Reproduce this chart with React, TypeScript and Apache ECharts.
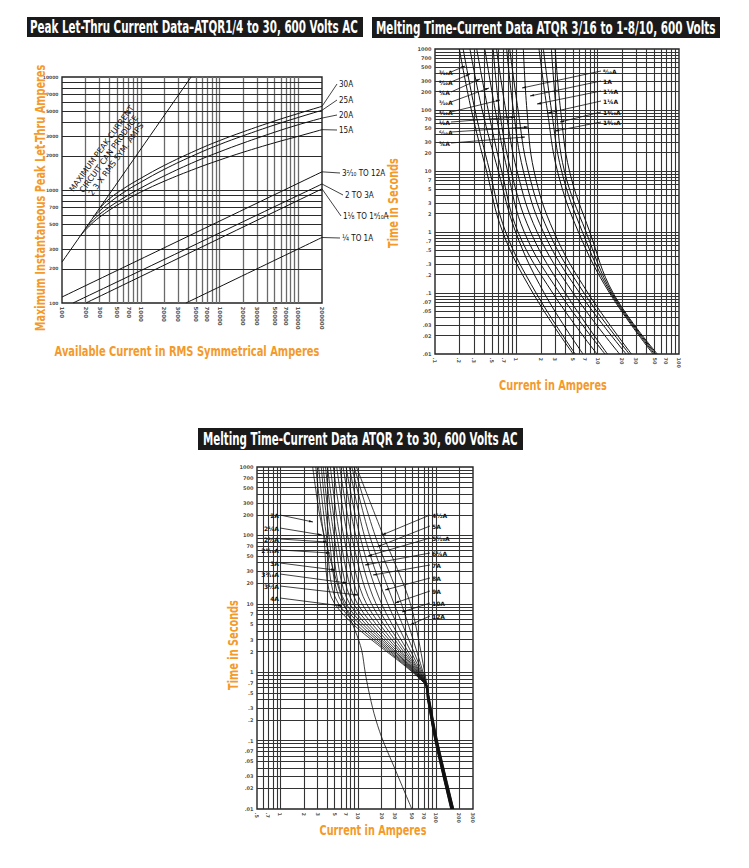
import React, { useEffect, useRef } from "react";
import * as echarts from "echarts";

const ORANGE = "#F39A2B";
const COND = "'Liberation Sans Narrow','DejaVu Sans Condensed','Roboto','Liberation Sans',sans-serif";
const SANS = "'DejaVu Sans','Liberation Sans',sans-serif";

// ---------- Chart 1: Peak let-thru ----------
const peakXTicks = [100, 200, 300, 500, 700, 1000, 2000, 3000, 5000, 7000, 10000, 20000, 30000, 50000, 70000, 100000, 200000];
const peakXLabels = ["100", "200", "300", "500", "700", "1000", "2000", "3000", "5000", "7000", "10000", "20000", "30000", "50000", "70000", "100000", "200000"];
const peakYTicks = [100, 200, 300, 500, 700, 1000, 2000, 3000, 5000, 7000, 10000];
const peakYLabels = ["100", "200", "300", "500", "700", "1000", "2000", "3000", "5000", "7000", "10000"];
const peakMaxAvailable = [[100, 230], [4350, 10000]];
const peak30A = [[300, 690], [400, 837], [600, 1025], [1000, 1270], [2000, 1653], [5000, 2236], [10000, 2735], [20000, 3274], [50000, 4080], [100000, 4753], [200000, 5500]];
const peak25A = [[250, 575], [300, 651], [400, 773], [600, 947], [1000, 1173], [2000, 1526], [5000, 2064], [10000, 2525], [20000, 3022], [50000, 3765], [100000, 4386], [200000, 5075]];
const peak20A = [[200, 460], [250, 544], [300, 609], [400, 707], [600, 848], [1000, 1041], [2000, 1337], [5000, 1792], [10000, 2175], [20000, 2604], [50000, 3245], [100000, 3781], [200000, 4330]];
const peak15A = [[170, 391], [200, 445], [250, 518], [300, 575], [400, 664], [600, 790], [1000, 959], [2000, 1198], [5000, 1548], [10000, 1841], [20000, 2160], [50000, 2618], [100000, 2988], [200000, 3420]];
const peak3to12A = [[100, 113], [200000, 1448]];
const peak2to3A = [[138, 100], [200000, 1130]];
const peak1to18A = [[201, 100], [200000, 1023]];
const peakQto1A = [[3750, 100], [200000, 380]];
const peakNames = ["30A", "25A", "20A", "15A", "3²⁄₁₀ TO 12A", "2 TO 3A", "1⅛ TO 1⁸⁄₁₀A", "¼ TO 1A"];

// ---------- Chart 2: melting time 3/16 to 1-8/10 ----------
const smallXTicks = [0.1, 0.2, 0.3, 0.5, 0.7, 1, 2, 3, 5, 7, 10, 20, 30, 50, 70, 100];
const smallXLabels = [".1", ".2", ".3", ".5", ".7", "1", "2", "3", "5", "7", "10", "20", "30", "50", "70", "100"];
const timeTicks = [1000, 700, 500, 300, 200, 100, 70, 50, 30, 20, 10, 7, 5, 3, 2, 1, 0.7, 0.5, 0.3, 0.2, 0.1, 0.07, 0.05, 0.03, 0.02, 0.01];
const timeLabels = ["1000", "700", "500", "300", "200", "100", "70", "50", "30", "20", "10", "7", "5", "3", "2", "1", ".7", ".5", ".3", ".2", ".1", ".07", ".05", ".03", ".02", ".01"];
// each curve: [current A, time s] at 1000, 100, 10, 1, 0.1, 0.01 s
const smallCurves = [
  [[0.199, 1000], [0.28, 100], [0.43, 10], [0.68, 1], [1.6, 0.1], [5.0, 0.01]],
  [[0.222, 1000], [0.31, 100], [0.47, 10], [0.74, 1], [1.75, 0.1], [5.3, 0.01]],
  [[0.269, 1000], [0.38, 100], [0.6, 10], [0.98, 1], [2.2, 0.1], [6.6, 0.01]],
  [[0.326, 1000], [0.45, 100], [0.66, 10], [1.05, 1], [2.8, 0.1], [9.8, 0.01]],
  [[0.41, 1000], [0.55, 100], [0.78, 10], [1.25, 1], [3.4, 0.1], [12.3, 0.01]],
  [[0.52, 1000], [0.62, 100], [0.86, 10], [1.5, 1], [4.0, 0.1], [13.2, 0.01]],
  [[0.57, 1000], [0.74, 100], [1.02, 10], [1.8, 1], [5.0, 0.1], [18.6, 0.01]],
  [[0.76, 1000], [0.92, 100], [1.22, 10], [2.15, 1], [6.0, 0.1], [22.4, 0.01]],
  [[0.83, 1000], [1.05, 100], [1.4, 10], [2.5, 1], [6.8, 0.1], [24.5, 0.01]],
  [[1.22, 1000], [1.35, 100], [1.65, 10], [2.9, 1], [7.6, 0.1], [26, 0.01]],
  [[1.9, 1000], [2.4, 100], [3.2, 10], [5.8, 1], [14, 0.1], [48, 0.01]],
  [[2.15, 1000], [2.7, 100], [3.6, 10], [6.5, 1], [14.5, 0.1], [50, 0.01]],
  [[2.7, 1000], [3.1, 100], [3.9, 10], [7.2, 1], [15, 0.1], [52, 0.01]],
  [[3.0, 1000], [3.5, 100], [4.5, 10], [8.0, 1], [15.5, 0.1], [54, 0.01]],
];
const smallLeftNames = ["³⁄₁₆A", "²⁄₁₀A", "¼A", "³⁄₁₀A", "⁴⁄₁₀A", "½A", "⁶⁄₁₀A", "¾A"];
const smallRightNames = ["⁸⁄₁₀A", "1A", "1⅛A", "1¼A", "1⁴⁄₁₀A", "1⁸⁄₁₀A"];

// ---------- Chart 3: melting time 2 to 30 ----------
const largeXTicks = [0.5, 0.7, 1, 2, 3, 5, 7, 10, 20, 30, 50, 70, 100, 200, 300];
const largeXLabels = [".5", ".7", "1", "2", "3", "5", "7", "10", "20", "30", "50", "70", "100", "200", "300"];
const largeCurves = [
  [[2.6, 1000], [3.2, 200], [4.1, 60], [6.1, 12.7], [9.2, 4], [11.1, 2.1], [12.3, 1], [13.6, 0.55], [16, 0.25], [20, 0.113], [29.6, 0.039], [49, 0.01]],
  [[2.85, 1000], [3.6, 100], [5.0, 10], [70, 0.7], [78, 0.4], [97, 0.1], [155, 0.01]],
  [[3.1, 1000], [3.9, 100], [5.6, 10], [70.5, 0.7], [78, 0.4], [97.5, 0.1], [156, 0.01]],
  [[3.35, 1000], [4.2, 100], [6.3, 10], [71, 0.7], [78.5, 0.4], [98, 0.1], [157, 0.01]],
  [[3.55, 1000], [4.5, 100], [7.0, 10], [71.5, 0.7], [79, 0.4], [98.5, 0.1], [158, 0.01]],
  [[3.8, 1000], [4.9, 100], [7.8, 10], [72, 0.7], [79, 0.4], [99, 0.1], [159, 0.01]],
  [[4.05, 1000], [5.3, 100], [8.7, 10], [72, 0.7], [79.5, 0.4], [99.5, 0.1], [160, 0.01]],
  [[4.4, 1000], [5.8, 100], [9.8, 10], [72.5, 0.7], [80, 0.4], [100, 0.1], [161, 0.01]],
  [[4.8, 1000], [6.5, 100], [11.2, 10], [73, 0.7], [80, 0.4], [100.5, 0.1], [162, 0.01]],
  [[5.3, 1000], [7.3, 100], [12.8, 10], [73, 0.7], [80.5, 0.4], [101, 0.1], [163, 0.01]],
  [[5.8, 1000], [8.2, 100], [14.8, 10], [73.5, 0.7], [81, 0.4], [101.5, 0.1], [164, 0.01]],
  [[6.4, 1000], [9.3, 100], [17, 10], [74, 0.7], [81, 0.4], [102, 0.1], [165, 0.01]],
  [[7.0, 1000], [10.5, 100], [20, 10], [74, 0.7], [81.5, 0.4], [102.5, 0.1], [166, 0.01]],
  [[7.7, 1000], [12, 100], [24, 10], [74.5, 0.7], [82, 0.4], [103, 0.1], [167, 0.01]],
  [[8.3, 1000], [14, 100], [29, 10], [75, 0.7], [82, 0.4], [103.5, 0.1], [168, 0.01]],
  [[8.9, 1000], [16.5, 100], [36, 10], [75, 0.7], [82.5, 0.4], [104, 0.1], [169, 0.01]],
  [[9.5, 1000], [21, 100], [47, 10], [76, 0.7], [83, 0.4], [105, 0.1], [170, 0.01]],
];
const largeLeftNames = ["2A", "2¼A", "2½A", "2⁸⁄₁₀A", "3A", "3²⁄₁₀A", "3½A", "4A"];
const largeRightNames = ["4½A", "5A", "5⁶⁄₁₀A", "6¼A", "7A", "8A", "9A", "10A", "12A"];

// ---------- layout (pixels) ----------
const grids = [
  { left: 62, top: 77, width: 260, height: 226 },
  { left: 435, top: 49, width: 244, height: 305 },
  { left: 257, top: 467, width: 216, height: 342 },
];
const extents = [
  { x: [100, 200000], y: [100, 10000] },
  { x: [0.1, 100], y: [0.01, 1000] },
  { x: [0.5, 300], y: [0.01, 1000] },
];
const titleBars = [
  { text: "Peak Let-Thru Current Data–ATQR1/4 to 30, 600 Volts AC", x: 27, y: 17, w: 336, h: 20, tx: 30, tw: 328 },
  { text: "Melting Time-Current Data ATQR 3/16 to 1-8/10, 600 Volts", x: 372, y: 17, w: 348, h: 21, tx: 376, tw: 340 },
  { text: "Melting Time-Current Data ATQR 2 to 30, 600 Volts AC", x: 198, y: 428, w: 325, h: 22, tx: 203, tw: 315 },
];
const axisTitles = [
  { text: "Maximum Instantaneous Peak Let-Thru Amperes", cx: 40, cy: 198, len: 267, vertical: true },
  { text: "Available Current in RMS Symmetrical Amperes", cx: 187, cy: 351, len: 265, vertical: false },
  { text: "Time in Seconds", cx: 393, cy: 203, len: 90, vertical: true },
  { text: "Current in Amperes", cx: 553, cy: 385, len: 108, vertical: false },
  { text: "Time in Seconds", cx: 233, cy: 645, len: 90, vertical: true },
  { text: "Current in Amperes", cx: 373, cy: 830, len: 107, vertical: false },
];
const peakLabelPos = [[339, 84], [339, 100], [339, 115], [339, 130], [342, 173], [345, 195], [343, 216], [342, 238]];
const smallLeftLabelY = [72, 82, 92, 102, 112, 122, 132, 143];
const smallLeftTargets = [[465, 66], [470, 74], [480, 79], [489, 88], [500, 100], [515, 117], [528, 127], [525, 137]];
const smallRightLabelY = [71, 81, 91, 101, 112, 122];
const smallRightTargets = [[522, 88], [530, 96], [537, 104], [548, 113], [560, 122], [555, 131]];
const largeLeftLabelY = [515, 528, 539, 550, 563, 574, 586, 598];
const largeLeftTargets = [[313, 522], [322, 535], [327, 542], [330, 553], [335, 570], [347, 583], [358, 595], [342, 606]];
const largeRightLabelY = [515, 526, 538, 553, 565, 578, 591, 603, 616];
const largeRightTargets = [[382, 535], [377, 547], [368, 556], [365, 565], [373, 575], [385, 590], [395, 603], [402, 612], [410, 625]];
const whiteBoxes = [
  [436, 62, 22, 88],
  [598, 63, 22, 62],
  [258, 502, 22, 101],
  [425, 502, 35, 121],
];

function logGridValues(min: number, max: number) {
  const out: number[] = [];
  const d0 = Math.floor(Math.log10(min));
  const d1 = Math.ceil(Math.log10(max));
  for (let d = d0; d <= d1; d++) {
    for (let k = 1; k <= 9; k++) {
      const v = parseFloat((k * Math.pow(10, d)).toPrecision(6));
      if (v > min * 1.0001 && v < max * 0.9999) out.push(v);
    }
  }
  return out;
}

function tickSeries(gi: number, axis: "x" | "y", ticks: number[], labels: string[], lineColor: string, lineWidth: number, fontSize: number) {
  const isX = axis === "x";
  const ext = extents[gi];
  const other = isX ? ext.y[0] : ext.x[0];
  const gridVals = logGridValues(isX ? ext.x[0] : ext.y[0], isX ? ext.x[1] : ext.y[1]);
  return {
    type: "scatter",
    xAxisIndex: gi,
    yAxisIndex: gi,
    z: 1,
    silent: true,
    clip: false,
    symbolSize: 1,
    itemStyle: { color: "rgba(0,0,0,0)" },
    emphasis: { disabled: true },
    data: ticks.map((v, i) => ({ name: labels[i], value: isX ? [v, other] : [other, v] })),
    label: isX
      ? { show: true, position: "bottom", distance: 3, rotate: -90, align: "left", verticalAlign: "middle", formatter: "{b}", fontSize, color: "#222", fontFamily: SANS, fontWeight: "bold" }
      : { show: true, position: "left", distance: 3, formatter: "{b}", fontSize, color: "#222", fontFamily: SANS, fontWeight: "bold" },
    markLine: {
      silent: true,
      animation: false,
      symbol: ["none", "none"],
      label: { show: false },
      emphasis: { disabled: true },
      lineStyle: { color: lineColor, width: lineWidth, type: "solid" },
      data: gridVals.map((v) => (isX ? { xAxis: v } : { yAxis: v })),
    },
  };
}

function curveSeries(gi: number, pts: number[][], width = 1, smooth = 0.3) {
  return {
    type: "line",
    xAxisIndex: gi,
    yAxisIndex: gi,
    data: pts,
    showSymbol: false,
    symbol: "none",
    smooth,
    silent: true,
    z: 5,
    lineStyle: { color: "#111", width },
    emphasis: { disabled: true },
  };
}

function buildOption() {
  const series: any[] = [
    tickSeries(0, "x", peakXTicks, peakXLabels, "#6a6a6a", 1.3, 5.5),
    tickSeries(0, "y", peakYTicks, peakYLabels, "#2a2a2a", 1, 4.5),
    tickSeries(1, "x", smallXTicks, smallXLabels, "#333", 1.1, 5),
    tickSeries(1, "y", timeTicks, timeLabels, "#333", 1, 5),
    tickSeries(2, "x", largeXTicks, largeXLabels, "#333", 1.1, 5),
    tickSeries(2, "y", timeTicks, timeLabels, "#333", 1, 5),
  ];
  [peakMaxAvailable, peak30A, peak25A, peak20A, peak15A, peak3to12A, peak2to3A, peak1to18A, peakQto1A].forEach((c) => series.push(curveSeries(0, c, 1, 0.4)));
  smallCurves.forEach((c) => series.push(curveSeries(1, c, 1, 0.4)));
  largeCurves.forEach((c) => series.push(curveSeries(2, c, 0.8, 0.3)));

  return {
    animation: false,
    backgroundColor: "#fff",
    grid: grids.map((g) => ({ ...g, show: true, borderColor: "#222", borderWidth: 1.4, backgroundColor: "transparent" })),
    xAxis: extents.map((e, i) => ({ type: "log", logBase: 10, gridIndex: i, min: e.x[0], max: e.x[1], show: false })),
    yAxis: extents.map((e, i) => ({ type: "log", logBase: 10, gridIndex: i, min: e.y[0], max: e.y[1], show: false })),
    series,
  };
}

let measureCtx: CanvasRenderingContext2D | null = null;
function textWidth(text: string, font: string) {
  if (!measureCtx) measureCtx = document.createElement("canvas").getContext("2d");
  measureCtx!.font = font;
  return measureCtx!.measureText(text).width || 1;
}

function fittedText(text: string, x: number, y: number, width: number, size: number, family: string, fill: string, align: string, rotation = 0) {
  const font = `bold ${size}px ${family}`;
  const w = textWidth(text, font);
  return {
    type: "text",
    x,
    y,
    rotation,
    scaleX: width / w,
    z: 10,
    silent: true,
    style: { text, font, fill, align, verticalAlign: "middle", textAlign: align, textVerticalAlign: "middle" },
  };
}

function smallText(text: string, x: number, y: number, size: number, align: string, family = SANS, weight = "normal") {
  return {
    type: "text",
    x,
    y,
    z: 10,
    silent: true,
    style: { text, font: `${weight} ${size}px ${family}`, fill: "#111", align, verticalAlign: "middle", textAlign: align, textVerticalAlign: "middle" },
  };
}

function leader(x1: number, y1: number, x2: number, y2: number) {
  return { type: "line", z: 6, silent: true, shape: { x1, y1, x2, y2 }, style: { stroke: "#111", lineWidth: 0.8 } };
}

function arrowHead(x1: number, y1: number, x2: number, y2: number) {
  const dx = x2 - x1;
  const dy = y2 - y1;
  const len = Math.hypot(dx, dy) || 1;
  const ux = dx / len;
  const uy = dy / len;
  const bx = x2 - ux * 4;
  const by = y2 - uy * 4;
  return {
    type: "polygon",
    z: 6,
    silent: true,
    shape: { points: [[x2, y2], [bx - uy * 1.2, by + ux * 1.2], [bx + uy * 1.2, by - ux * 1.2]] },
    style: { fill: "#111" },
  };
}

function buildGraphic(chart: any) {
  const els: any[] = [];
  const px = (gi: number, p: number[]) => chart.convertToPixel({ gridIndex: gi }, p) as number[];

  titleBars.forEach((t) => {
    els.push({ type: "rect", z: 9, silent: true, shape: { x: t.x, y: t.y, width: t.w, height: t.h }, style: { fill: "#1a1a1a" } });
    els.push(fittedText(t.text, t.tx, t.y + t.h / 2 + 0.5, t.tw, 17, COND, "#fff", "left"));
  });
  axisTitles.forEach((a) => {
    els.push(fittedText(a.text, a.cx, a.cy, a.len, 14, COND, ORANGE, "center", a.vertical ? Math.PI / 2 : 0));
  });
  whiteBoxes.forEach(([x, y, w, h]) => {
    els.push({ type: "rect", z: 2, silent: true, shape: { x, y, width: w, height: h }, style: { fill: "#fff" } });
  });

  // chart 1 diagonal note
  els.push({
    type: "text",
    x: 109,
    y: 154,
    rotation: (54 * Math.PI) / 180,
    z: 10,
    silent: true,
    style: {
      text: "MAXIMUM PEAK CURRENT\nCIRCUIT CAN PRODUCE\n2.3 X RMS SYM. AMPS",
      font: `normal 8px ${SANS}`,
      lineHeight: 9,
      fill: "#111",
      align: "center",
      verticalAlign: "middle",
      textAlign: "center",
      textVerticalAlign: "middle",
    },
  });

  // chart 1 labels
  const peakCurves = [peak30A, peak25A, peak20A, peak15A, peak3to12A, peak2to3A, peak1to18A, peakQto1A];
  peakCurves.forEach((c, i) => {
    const end = px(0, c[c.length - 1]);
    const [lx, ly] = peakLabelPos[i];
    els.push(leader(end[0], end[1], lx - 2, ly));
    els.push(smallText(peakNames[i], lx, ly, 8, "left", COND));
  });

  const callout = (name: string, lx: number, ly: number, align: string, sx: number, t: number[]) => {
    els.push(smallText(name, lx, ly, 6, align, SANS, "bold"));
    els.push(leader(sx, ly, t[0], t[1]));
    els.push(arrowHead(sx, ly, t[0], t[1]));
  };

  // chart 2 labels
  smallLeftNames.forEach((n, i) => callout(n, 439, smallLeftLabelY[i], "left", 451, smallLeftTargets[i]));
  smallRightNames.forEach((n, i) => callout(n, 603, smallRightLabelY[i], "left", 601, smallRightTargets[i]));

  // chart 3 labels
  largeLeftNames.forEach((n, i) => callout(n, 279, largeLeftLabelY[i], "right", 280, largeLeftTargets[i]));
  largeRightNames.forEach((n, i) => callout(n, 432, largeRightLabelY[i], "left", 430, largeRightTargets[i]));
  return els;
}

export default function App() {
  const ref = useRef<HTMLDivElement>(null);
  useEffect(() => {
    if (!ref.current) return;
    const chart = echarts.init(ref.current, null, { renderer: "svg" });
    chart.setOption(buildOption() as any);
    chart.setOption({ graphic: buildGraphic(chart) } as any);
    return () => chart.dispose();
  }, []);
  return <div ref={ref} style={{ position: "absolute", left: 0, top: 0, width: 749, height: 868, background: "#fff" }} />;
}
